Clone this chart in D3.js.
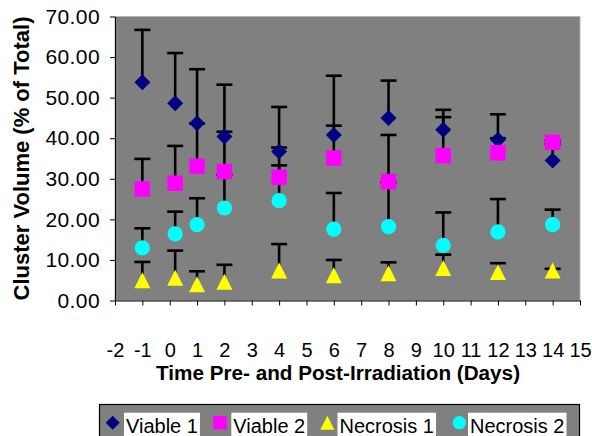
<!DOCTYPE html>
<html>
<head>
<meta charset="utf-8">
<script src="https://cdn.jsdelivr.net/npm/d3@7/dist/d3.min.js"></script>
<style>
  html, body { margin: 0; padding: 0; background: #ffffff; }
  svg { display: block; }
  text { font-family: "Liberation Sans", Arial, sans-serif; }
</style>
</head>
<body>
<svg id="chart" width="592" height="436"></svg>
<script>
// ---- Data ----
const days = [-1, 0.2, 1, 2, 4, 6, 8, 10, 12, 14];
const viable1    = [53.8, 48.6, 43.7, 40.4, 36.7, 40.8, 45.0, 42.1, 39.6, 34.5];
const viable1Err = [12.9, 12.4, 13.3, 12.8, 11.0, 14.6, 9.2, 4.9, 6.3, 4.1];
const viable2    = [27.5, 28.9, 33.1, 31.8, 30.4, 35.1, 29.3, 35.7, 36.4, 39.0];
const viable2Err = [7.4, 9.2, 10.5, 9.8, 7.3, 8.0, 11.5, 9.5, 3.6, 0.4];
const necrosis1    = [5.0, 5.6, 4.0, 4.6, 7.4, 6.2, 6.7, 8.0, 7.0, 7.4];
const necrosis1Err = [4.5, 6.7, 3.2, 4.2, 6.5, 3.8, 2.7, 3.3, 2.2, 0.4];
const necrosis2    = [13.0, 16.4, 18.7, 22.8, 24.6, 17.6, 18.2, 13.6, 16.9, 18.7];
const necrosis2Err = [4.8, 5.5, 6.5, 8.2, 8.7, 8.9, 10.9, 8.1, 8.1, 3.7];
const seriesNames = ["Viable 1", "Viable 2", "Necrosis 1", "Necrosis 2"];
const xTicks = d3.range(-2, 16, 1);
const yTicks = d3.range(0, 71, 10);
const xTitle = "Time Pre- and Post-Irradiation (Days)";
const yTitle = "Cluster Volume (% of Total)";

// ---- Styles ----
const colors = ["#000080", "#ff00ff", "#ffff00", "#00ffff"];
const shapes = ["diamond", "square", "triangle", "circle"];

const series = [
  {values: viable1, err: viable1Err},
  {values: viable2, err: viable2Err},
  {values: necrosis1, err: necrosis1Err},
  {values: necrosis2, err: necrosis2Err}
].map((s, i) => ({...s, name: seriesNames[i], color: colors[i], shape: shapes[i]}));

const svg = d3.select("#chart");
const plot = {left: 115, right: 580, top: 16.5, bottom: 300.5};

const x = d3.scaleLinear().domain([-2, 15]).range([plot.left, plot.right]);
const y = d3.scaleLinear().domain([0, 70]).range([plot.bottom, plot.top]);

// plot area
svg.append("rect")
  .attr("x", plot.left).attr("y", plot.top)
  .attr("width", plot.right - plot.left).attr("height", plot.bottom - plot.top)
  .attr("fill", "#808080").attr("stroke", "#b4b4b4").attr("stroke-width", 1);

function markerPath(shape, s) {
  const h = s / 2;
  if (shape === "diamond") return `M0,${-h}L${h},0L0,${h}L${-h},0Z`;
  if (shape === "square") { const q = h * 0.97; return `M${-q},${-q}L${q},${-q}L${q},${q}L${-q},${q}Z`; }
  if (shape === "triangle") return `M0,${-h}L${h},${h}L${-h},${h}Z`;
  if (shape === "circle") { const r = h * 0.95; return `M${r},0A${r},${r} 0 1,1 ${-r},0A${r},${r} 0 1,1 ${r},0Z`; }
}

// error bars (plus direction), drawn first
const eb = svg.append("g").attr("class", "errorbars")
  .attr("stroke", "#000").attr("stroke-width", 2.6).attr("fill", "none");
series.forEach(s => {
  days.forEach((d, i) => {
    const cx = x(d), y0 = y(s.values[i]), y1 = y(s.values[i] + s.err[i]);
    eb.append("line").attr("x1", cx).attr("x2", cx).attr("y1", y0).attr("y2", y1);
    eb.append("line").attr("x1", cx - 8).attr("x2", cx + 8).attr("y1", y1).attr("y2", y1);
  });
});

// markers
series.forEach(s => {
  svg.append("g").selectAll("path")
    .data(days.map((d, i) => [d, s.values[i]]))
    .join("path")
    .attr("transform", d => `translate(${x(d[0])},${y(d[1])})`)
    .attr("d", markerPath(s.shape, 16))
    .attr("fill", s.color);
});

// axes
const xAxis = d3.axisBottom(x).tickValues(xTicks).tickSize(5).tickSizeOuter(0).tickPadding(37)
  .tickFormat(d => String(d));
const gx = svg.append("g").attr("transform", `translate(0,${plot.bottom})`).call(xAxis);
gx.select(".domain").attr("stroke", "#000");
gx.selectAll(".tick line").attr("stroke", "#000");
gx.selectAll("text").attr("font-size", "20px").attr("fill", "#000")
  .attr("font-family", "'Liberation Sans', Arial, sans-serif");

const yAxis = d3.axisLeft(y).tickValues(yTicks).tickSize(5).tickSizeOuter(0).tickPadding(10)
  .tickFormat(d => d.toFixed(2));
const gy = svg.append("g").attr("transform", `translate(${plot.left},0)`).call(yAxis);
gy.select(".domain").attr("stroke", "#000");
gy.selectAll(".tick line").attr("stroke", "#000");
gy.selectAll("text").attr("font-size", "21px").attr("fill", "#000")
  .attr("letter-spacing", "0.4px")
  .attr("font-family", "'Liberation Sans', Arial, sans-serif");

// titles
svg.append("text")
  .attr("x", 338).attr("y", 379.5)
  .attr("text-anchor", "middle")
  .attr("font-size", "20.7px").attr("font-weight", "bold")
  .text(xTitle);

svg.append("text")
  .attr("transform", `translate(28.5,${(plot.top + plot.bottom) / 2}) rotate(-90)`)
  .attr("text-anchor", "middle")
  .attr("font-size", "22px").attr("font-weight", "bold")
  .text(yTitle);

// legend
const legend = svg.append("g");
legend.append("rect")
  .attr("x", 99.5).attr("y", 404.5).attr("width", 480).attr("height", 40)
  .attr("fill", "#808080").attr("stroke", "#000").attr("stroke-width", 1.2);
const legendMarkerX = [112.7, 220, 327.3, 459.3];
const legendTextX = [126, 233.3, 339.5, 470];
series.forEach((s, i) => {
  const bg = legend.append("rect").attr("fill", "#fff");
  const t = legend.append("text")
    .attr("x", legendTextX[i]).attr("y", 433)
    .attr("font-size", "20px").attr("fill", "#000")
    .text(s.name);
  const w = t.node().getComputedTextLength();
  bg.attr("x", legendTextX[i] - 2).attr("y", 412.7).attr("width", w + 4).attr("height", 30);
  legend.append("path")
    .attr("transform", `translate(${legendMarkerX[i]},422.7)`)
    .attr("d", markerPath(s.shape, 14))
    .attr("fill", s.color);
});
</script>
</body>
</html>
